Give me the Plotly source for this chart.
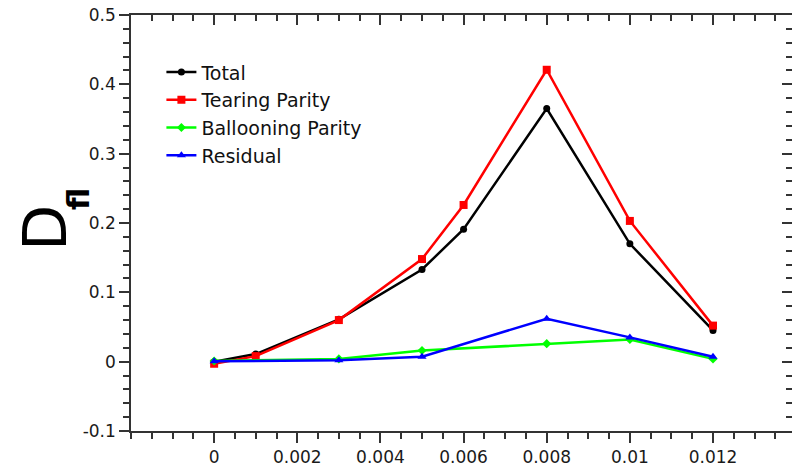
import plotly.graph_objects as go

# ---- data ----
x_main = [0.0, 0.001, 0.003, 0.005, 0.006, 0.008, 0.010, 0.012]
total = [0.0, 0.011, 0.061, 0.133, 0.191, 0.365, 0.170, 0.045]
tearing = [-0.003, 0.008, 0.060, 0.148, 0.226, 0.421, 0.203, 0.052]

x_ball = [0.0, 0.003, 0.005, 0.008, 0.010, 0.012]
ballooning = [0.001, 0.004, 0.016, 0.026, 0.032, 0.004]

x_res = [0.0, 0.003, 0.005, 0.008, 0.010, 0.012]
residual = [0.0005, 0.002, 0.007, 0.062, 0.035, 0.007]

x_tickvals = [0, 0.002, 0.004, 0.006, 0.008, 0.010, 0.012]
x_ticktext = ["0", "0.002", "0.004", "0.006", "0.008", "0.01", "0.012"]
y_tickvals = [-0.1, 0, 0.1, 0.2, 0.3, 0.4, 0.5]
y_ticktext = ["-0.1", "0", "0.1", "0.2", "0.3", "0.4", "0.5"]

X_RANGE = [-0.002, 0.0139]
Y_RANGE = [-0.1, 0.5]

FONT = "DejaVu Sans"
AX = "#333333"

fig = go.Figure()
fig.add_trace(go.Scatter(x=x_main, y=total, name="Total", mode="lines+markers",
                         line=dict(color="black", width=2.5),
                         marker=dict(symbol="circle", size=7, color="black")))
fig.add_trace(go.Scatter(x=x_main, y=tearing, name="Tearing Parity", mode="lines+markers",
                         line=dict(color="#ff0000", width=2.5),
                         marker=dict(symbol="square", size=8, color="#ff0000")))
fig.add_trace(go.Scatter(x=x_ball, y=ballooning, name="Ballooning Parity", mode="lines+markers",
                         line=dict(color="#00ff00", width=2.5),
                         marker=dict(symbol="diamond", size=7, color="#00ff00")))
fig.add_trace(go.Scatter(x=x_res, y=residual, name="Residual", mode="lines+markers",
                         line=dict(color="#0000ff", width=2.5),
                         marker=dict(symbol="triangle-up", size=8, color="#0000ff")))
# invisible trace to activate the mirror (top/right) axes
fig.add_trace(go.Scatter(x=[None], y=[None], xaxis="x2", yaxis="y2",
                         showlegend=False, hoverinfo="skip"))

tickfont = dict(family=FONT, size=17, color="#1a1a1a")

common = dict(showgrid=False, zeroline=False, showline=True, linecolor=AX, linewidth=1.5,
              ticklen=10, tickwidth=1.5, tickcolor=AX, automargin=False)

fig.update_layout(
    width=792, height=467,
    margin=dict(l=131, r=0, t=15, b=36, autoexpand=False),
    paper_bgcolor="white", plot_bgcolor="white",
    showlegend=True,
    legend=dict(x=0.046, y=0.908, xanchor="left", yanchor="top",
                bgcolor="rgba(0,0,0,0)", font=dict(family=FONT, size=19, color="#111111"),
                tracegroupgap=0, itemwidth=30),
    xaxis=dict(range=X_RANGE, ticks="outside",
               tickvals=x_tickvals, ticktext=x_ticktext, tickfont=tickfont,
               minor=dict(ticks="outside", ticklen=6, tickwidth=1.5, tickcolor=AX,
                          dtick=0.0005, tick0=0, showgrid=False), **common),
    yaxis=dict(range=Y_RANGE, ticks="outside",
               tickvals=y_tickvals, ticktext=y_ticktext, tickfont=tickfont,
               minor=dict(ticks="outside", ticklen=6, tickwidth=1.5, tickcolor=AX,
                          dtick=0.02, tick0=0, showgrid=False), **common),
    xaxis2=dict(range=X_RANGE, overlaying="x", side="top", anchor="y2",
                ticks="inside", tickvals=x_tickvals, showticklabels=False,
                minor=dict(ticks="inside", ticklen=6, tickwidth=1.5, tickcolor=AX,
                           dtick=0.0005, tick0=0, showgrid=False), **common),
    yaxis2=dict(range=Y_RANGE, overlaying="y", side="right", anchor="x2",
                ticks="inside", tickvals=y_tickvals, showticklabels=False,
                minor=dict(ticks="inside", ticklen=6, tickwidth=1.5, tickcolor=AX,
                           dtick=0.02, tick0=0, showgrid=False), **common),
)

# y-axis title D_fl (rotated)
fig.add_annotation(text="D", xref="paper", yref="paper",
                   x=(45 - 131) / 661, y=(431 - 228) / 416, xanchor="center", yanchor="middle",
                   textangle=-90, showarrow=False,
                   font=dict(family=FONT, size=60, color="black"))
fig.add_annotation(text="<b>fl</b>", xref="paper", yref="paper",
                   x=(78 - 131) / 661, y=(431 - 199) / 416, xanchor="center", yanchor="middle",
                   textangle=-90, showarrow=False,
                   font=dict(family=FONT, size=30, color="black"))

fig.write_html("out.html", config={"displayModeBar": False},
               post_script="document.body.style.margin='0px';document.body.style.overflow='hidden';")
